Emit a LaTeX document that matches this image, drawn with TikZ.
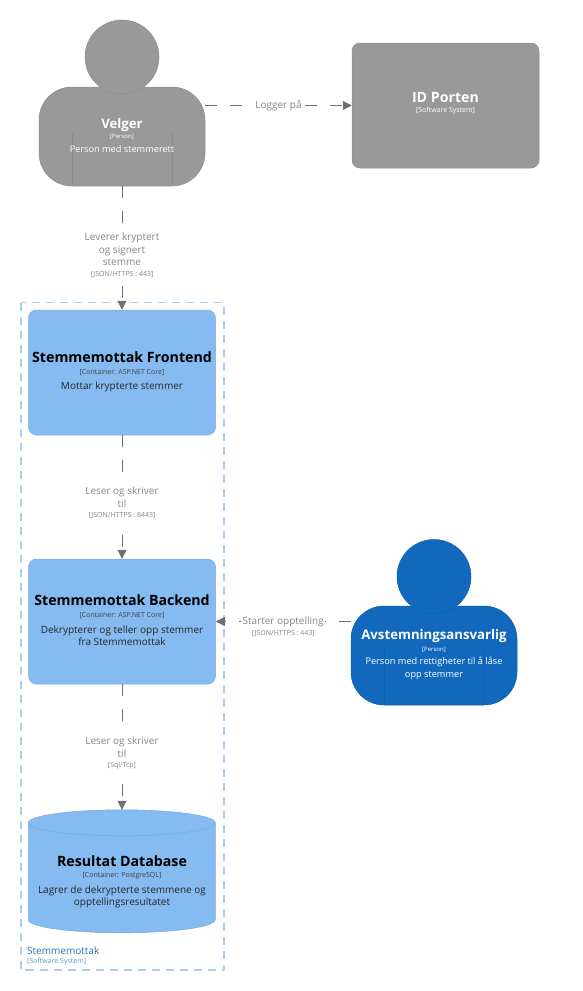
\documentclass[tikz,border=0pt]{standalone}
\usepackage{fontspec}
\setmainfont{Open Sans}
\usetikzlibrary{arrows.meta}
\definecolor{grayfill}{HTML}{999999}
\definecolor{grayline}{HTML}{8C8C8C}
\definecolor{lightblue}{HTML}{85BBF0}
\definecolor{lightline}{HTML}{78ABDD}
\definecolor{darkblue}{HTML}{1168BD}
\definecolor{darkline}{HTML}{0F5FAC}
\definecolor{connc}{HTML}{707070}
\definecolor{boundc}{HTML}{A9CDF0}
\definecolor{boundt}{HTML}{2F6FB5}
\newcommand{\ttl}[1]{{\fontsize{14.2}{16}\selectfont\bfseries #1}}
\newcommand{\ttp}[1]{{\fontsize{13.2}{16}\selectfont\bfseries #1}}
\newcommand{\tch}[1]{{\fontsize{7}{9}\selectfont #1}}
\newcommand{\tcp}[1]{{\fontsize{6}{9}\selectfont #1}}
\newcommand{\dscf}{\fontsize{10}{12.5}\selectfont}
\newcommand{\dscp}{\fontsize{9.2}{12.5}\selectfont}
\tikzset{
  boxshape/.style={rectangle,rounded corners=8pt,minimum width=187pt,minimum height=125pt,inner sep=0pt,line width=.5pt},
  sysbox/.style={boxshape,fill=grayfill,draw=grayline},
  contbox/.style={boxshape,fill=lightblue,draw=lightline},
  bodyshape/.style={rectangle,rounded corners=33pt,minimum width=166pt,minimum height=99pt,inner sep=0pt,line width=.5pt},
  headshape/.style={circle,minimum size=74pt,inner sep=0pt,line width=.5pt},
  txt/.style={align=center,inner sep=0pt,anchor=center},
  conn/.style={draw=connc,line width=.8pt,dash pattern=on 12pt off 13pt,-{Triangle[length=9pt,width=9pt,fill=connc]}},
  connlabel/.style={fill=white,align=center,inner xsep=1.5pt,inner ysep=5pt,text=connc!85!white,font=\dscf},
  desc/.style={txt,font=\dscf},
  descp/.style={txt,font=\dscp},
}
\begin{document}
\begin{tikzpicture}[x=1pt,y=-1pt]
\useasboundingbox (0,0) rectangle (583,991);
\fill[white] (0,0) rectangle (583,991);
% boundary
\draw[boundc,line width=1.1pt,dash pattern=on 8pt off 6pt] (21,302.5) rectangle (224,970);
\node[txt,anchor=west,text=boundt] (bt) at (27,951) {\fontsize{10}{11}\selectfont Stemmemottak};
\node[txt,anchor=west,text=boundt!75!white] (bs) at (27,961.5) {\tch{[Software System]}};
% persons
\node[bodyshape,fill=grayfill,draw=grayline] (velger) at (122,136.5) {};
\draw[grayline] (72.5,133) -- (72.5,186);
\draw[grayline] (172,133) -- (172,186);
\node[headshape,fill=grayfill,draw=grayline] (velgerhead) at (122,57) {};
\node[txt,text=white] (vt) at (122,125) {\ttp{Velger}};
\node[txt,text=white] (vk) at (122,136.5) {\tcp{[Person]}};
\node[descp,text=white] (vd) at (122,149.5) {Person med stemmerett};
\node[sysbox] (id) at (445.5,105.5) {};
\node[txt,text=white] (it) at (445.5,97) {\ttl{ID Porten}};
\node[txt,text=white] (ik) at (445.5,111) {\tch{[Software System]}};
\node[contbox] (front) at (122,372.5) {};
\node[txt,text=black] (ft) at (122,357) {\ttl{Stemmemottak Frontend}};
\node[txt,text=black!75] (fk) at (122,372.5) {\tch{[Container: ASP.NET Core]}};
\node[desc,text=black!85] (fd) at (122,386.5) {Mottar krypterte stemmer};
\node[contbox] (back) at (122,621.5) {};
\node[txt,text=black] (bkt) at (122,600) {\ttl{Stemmemottak Backend}};
\node[txt,text=black!75] (bkk) at (122,615) {\tch{[Container: ASP.NET Core]}};
\node[desc,text=black!85] (bkd) at (122,635.5) {Dekrypterer og teller opp stemmer\\fra Stemmemottak};
% database
\node[rectangle,minimum width=187pt,minimum height=123pt,inner sep=0pt] (db) at (122,871.5) {};
\path[fill=lightblue,draw=lightline,line width=.5pt] (db.north west) ++(0,13)
  arc[start angle=180,end angle=360,x radius=93.5,y radius=13] -- ++(0,97)
  arc[start angle=0,end angle=180,x radius=93.5,y radius=13] -- cycle;
\draw[lightline,line width=.5pt] (db.north west) ++(0,13) arc[start angle=180,end angle=0,x radius=93.5,y radius=13];
\node[txt,text=black] (dt) at (122,861) {\ttl{Resultat Database}};
\node[txt,text=black!75] (dk) at (122,876) {\tch{[Container: PostgreSQL]}};
\node[desc,text=black!85] (dd) at (122,897) {Lagrer de dekrypterte stemmene og\\opptellingsresultatet};
\node[bodyshape,fill=darkblue,draw=darkline] (ansv) at (434,655.5) {};
\draw[darkline] (384,650) -- (384,705);
\draw[darkline] (483,650) -- (483,705);
\node[headshape,fill=darkblue,draw=darkline] (ansvhead) at (434,576.5) {};
\node[txt,text=white] (at) at (434,636) {\ttp{Avstemningsansvarlig}};
\node[txt,text=white] (ak) at (434,649.5) {\tcp{[Person]}};
\node[descp,text=white] (ad) at (434,668.5) {Person med rettigheter til å låse\\opp stemmer};
% connectors
\draw[conn] (velger.east |- id.west) -- node[connlabel,pos=.5] (l1) {Logger på} (id.west);
\draw[conn] (velger.south) -- node[connlabel,pos=.56] (l2) {Leverer kryptert\\og signert\\stemme\\[-2pt]\tch{[JSON/HTTPS : 443]}} (front.north);
\draw[conn] (front.south) -- node[connlabel,pos=.55] (l3) {Leser og skriver\\til\\[-2pt]\tch{[JSON/HTTPS : 8443]}} (back.north);
\draw[conn] (back.south) -- node[connlabel,pos=.55] (l4) {Leser og skriver\\til\\[-2pt]\tch{[Sql/Tcp]}} (db.north);
\draw[conn] (ansv.west |- back.east) -- node[connlabel,pos=.5,yshift=-5.5pt] (l5) {Starter opptelling\\[-2pt]\tch{[JSON/HTTPS : 443]}} (back.east);
\end{tikzpicture}
\end{document}
